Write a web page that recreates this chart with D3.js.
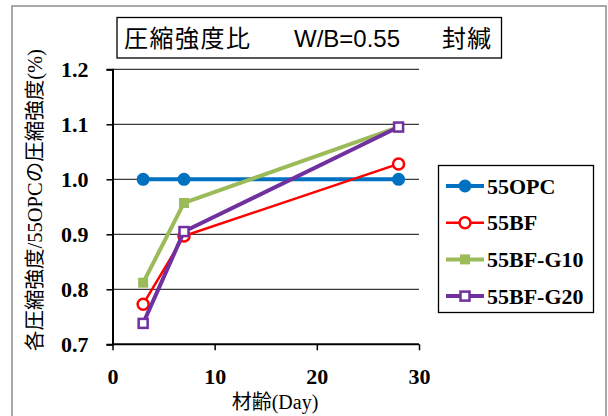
<!DOCTYPE html>
<html><head><meta charset="utf-8">
<script src="https://cdn.jsdelivr.net/npm/d3@7"></script>
<style>body{margin:0;background:#fff}svg{display:block}</style>
</head><body>
<script>
const days = [3, 7, 28];
const seriesNames = ["55OPC", "55BF", "55BF-G10", "55BF-G20"];
const opc = [1.0, 1.0, 1.0];
const bf = [0.773, 0.897, 1.028];
const g10 = [0.812, 0.957, 1.095];
const g20 = [0.738, 0.905, 1.095];
const xTicks = [0, 10, 20, 30];
const yTicks = [0.7, 0.8, 0.9, 1.0, 1.1, 1.2];
const titleParts = ["圧縮強度比", "W/B=0.55", "封緘"];

const W = 608, H = 416;
const svg = d3.select("body").append("svg").attr("width", W).attr("height", H);
const serif = "Liberation Serif, Times New Roman, serif";
const cjk = "Noto Sans CJK JP, sans-serif";

// outer frame
svg.append("rect").attr("x", 12).attr("y", 6).attr("width", 594).attr("height", 430)
  .attr("fill", "none").attr("stroke", "#8c8c8c").attr("stroke-width", 1.5);

const x = d3.scaleLinear().domain([0, 30]).range([112.5, 419]);
const y = d3.scaleLinear().domain([0.7, 1.2]).range([344.3, 69.3]);

// gridlines
svg.append("g").selectAll("line").data(yTicks.filter(d => d > 0.7)).join("line")
  .attr("x1", x(0)).attr("x2", x(30)).attr("y1", d => y(d)).attr("y2", d => y(d))
  .attr("stroke", "#3a3a3a").attr("stroke-width", 1.3);

// axes
const yAxis = d3.axisLeft(y).tickValues(yTicks).tickFormat(d3.format(".1f")).tickSize(6).tickPadding(18);
const gy = svg.append("g").attr("transform", `translate(${x(0)},0)`).call(yAxis);
gy.select(".domain").attr("stroke", "#000").attr("stroke-width", 2);
gy.selectAll(".tick line").attr("stroke", "#000").attr("stroke-width", 1.5);
gy.selectAll(".tick text").attr("font-family", serif)
  .attr("font-weight", "bold").attr("font-size", 22).attr("fill", "#000");

const xAxis = d3.axisBottom(x).tickValues(xTicks).tickFormat(d3.format("d")).tickSize(6).tickPadding(18);
const gx = svg.append("g").attr("transform", `translate(0,${y(0.7)})`).call(xAxis);
gx.select(".domain").attr("stroke", "#000").attr("stroke-width", 2);
gx.selectAll(".tick line").attr("stroke", "#000").attr("stroke-width", 1.5);
gx.selectAll(".tick text").attr("font-family", serif)
  .attr("font-weight", "bold").attr("font-size", 22).attr("fill", "#000");
gx.selectAll(".domain").attr("d", `M${x(0)},0H${x(30)}`);

// series
const series = [
  {name: seriesNames[0], vals: opc, color: "#0070C0", lw: 4, marker: "circle", fill: true},
  {name: seriesNames[1], vals: bf, color: "#FF0000", lw: 2.5, marker: "circle", fill: false},
  {name: seriesNames[2], vals: g10, color: "#9BBB59", lw: 4, marker: "square", fill: true},
  {name: seriesNames[3], vals: g20, color: "#7030A0", lw: 4, marker: "square", fill: false}
];
const line = d3.line().x(d => x(d[0])).y(d => y(d[1]));

function drawMarker(g, cx, cy, s) {
  if (s.marker === "circle") {
    const r = s.fill ? 6.5 : 5.5;
    g.append("circle").attr("cx", cx).attr("cy", cy).attr("r", r)
      .attr("fill", s.fill ? s.color : "#fff").attr("stroke", s.color).attr("stroke-width", s.fill ? 0 : 2.5);
  } else {
    const a = s.fill ? 10 : 9;
    g.append("rect").attr("x", cx - a / 2).attr("y", cy - a / 2).attr("width", a).attr("height", a)
      .attr("fill", s.fill ? s.color : "#fff").attr("stroke", s.color).attr("stroke-width", s.fill ? 0 : 2.5);
  }
}

series.forEach(s => {
  const pts = days.map((d, i) => [d, s.vals[i]]);
  svg.append("path").attr("d", line(pts)).attr("fill", "none")
    .attr("stroke", s.color).attr("stroke-width", s.lw).attr("stroke-linejoin", "round");
  const g = svg.append("g");
  pts.forEach(p => drawMarker(g, x(p[0]), y(p[1]), s));
});

// title box
svg.append("rect").attr("x", 117).attr("y", 17.5).attr("width", 384.5).attr("height", 40.5)
  .attr("fill", "#fff").attr("stroke", "#000").attr("stroke-width", 1.3);
const tt = svg.append("g").attr("font-size", 24).attr("fill", "#000");
tt.append("text").attr("x", 124).attr("y", 47).attr("font-family", cjk).attr("letter-spacing", 1.5).text(titleParts[0]);
tt.append("text").attr("x", 294).attr("y", 47).attr("font-family", "Liberation Sans, Arial, sans-serif").text(titleParts[1]);
tt.append("text").attr("x", 442).attr("y", 47).attr("font-family", cjk).attr("letter-spacing", 1).text(titleParts[2]);

// legend
const lg = svg.append("g");
lg.append("rect").attr("x", 438.5).attr("y", 165.5).attr("width", 155).attr("height", 147)
  .attr("fill", "#fff").attr("stroke", "#000").attr("stroke-width", 1.3);
series.forEach((s, i) => {
  const cy = 186 + i * 36.7;
  lg.append("line").attr("x1", 446).attr("x2", 484).attr("y1", cy).attr("y2", cy)
    .attr("stroke", s.color).attr("stroke-width", s.lw);
  drawMarker(lg, 465, cy, s);
  lg.append("text").attr("x", 487).attr("y", cy + 7.5)
    .attr("font-family", serif).attr("font-weight", "bold")
    .attr("font-size", 22).attr("fill", "#000").text(s.name);
});

// axis titles
svg.append("text").attr("x", 275).attr("y", 409).attr("text-anchor", "middle")
  .attr("font-size", 20).attr("fill", "#000")
  .call(t => {
    t.append("tspan").attr("font-family", cjk).text("材齢");
    t.append("tspan").attr("font-family", serif).text("(Day)");
  });

svg.append("text").attr("transform", "translate(42,200) rotate(-90)").attr("text-anchor", "middle")
  .attr("font-size", 20.5).attr("fill", "#000")
  .call(t => {
    t.append("tspan").attr("font-family", cjk).text("各圧縮強度");
    t.append("tspan").attr("font-family", serif).text("/55OPC");
    t.append("tspan").attr("font-family", cjk).text("の圧縮強度");
    t.append("tspan").attr("font-family", serif).text("(%)");
  });
</script>
</body></html>
